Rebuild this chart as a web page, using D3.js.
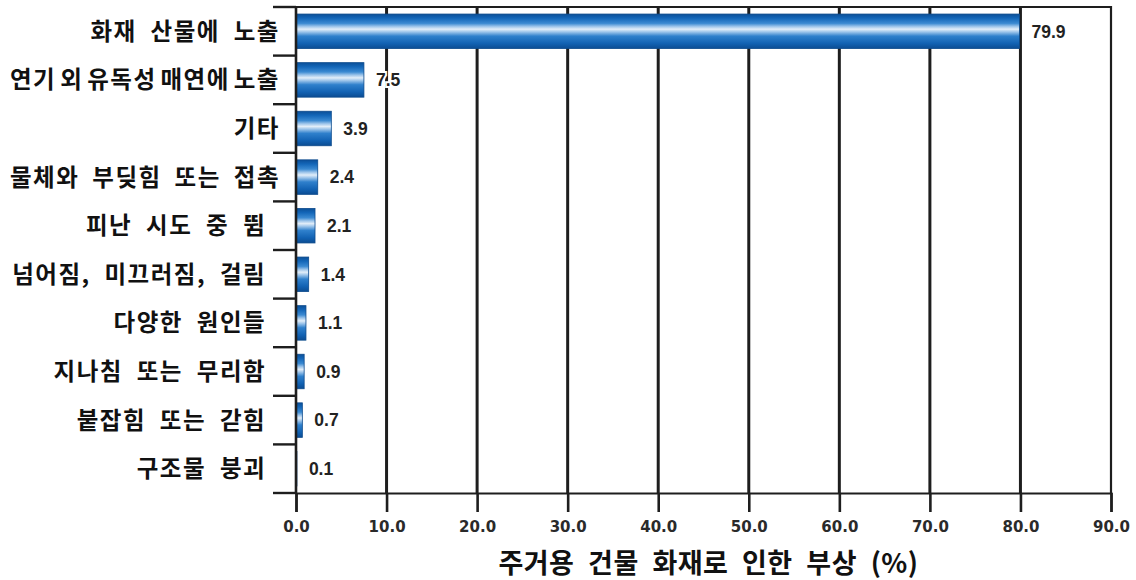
<!DOCTYPE html>
<html><head><meta charset="utf-8">
<script src="https://cdn.jsdelivr.net/npm/d3@7"></script>
<style>
html,body{margin:0;padding:0;background:#fff;}
svg{display:block;}
.cat{white-space:pre;}
</style></head>
<body>
<svg id="chart" width="1136" height="580"></svg>
<script>
// Injury causes in residential building fires (%)
const categories = [
  "화재 산물에 노출",
  "연기 외 유독성 매연에 노출",
  "기타",
  "물체와 부딪힘 또는 접촉",
  "피난 시도 중 뜀 ",
  "넘어짐, 미끄러짐, 걸림 ",
  "다양한 원인들 ",
  "지나침 또는 무리함 ",
  "붙잡힘 또는 갇힘 ",
  "구조물 붕괴 "
];
const values = [79.9, 7.5, 3.9, 2.4, 2.1, 1.4, 1.1, 0.9, 0.7, 0.1];
const xTicks = [0, 10, 20, 30, 40, 50, 60, 70, 80, 90];
const xTitle = "주거용 건물 화재로 인한 부상 (%)";

const svg = d3.select("#chart");
const m = {left: 296, right: 1111, top: 7, bottom: 493};

const x = d3.scaleLinear().domain([0, 90]).range([m.left, m.right]);
const y = d3.scaleBand().domain(categories).range([m.top, m.bottom]).paddingInner(0.29).paddingOuter(0.145);

// cylinder-style shading for the bars
const defs = svg.append("defs");
const grad = defs.append("linearGradient").attr("id", "barGrad")
  .attr("x1", 0).attr("y1", 0).attr("x2", 0).attr("y2", 1);
[
  [0, "#0b4f98"], [0.12, "#1366b8"], [0.27, "#3b8ad2"], [0.36, "#9cc4ea"],
  [0.44, "#e2eef9"], [0.52, "#9cc4ea"], [0.64, "#2f80cc"], [0.85, "#1262b3"], [1, "#0b4c92"]
].forEach(([o, c]) => grad.append("stop").attr("offset", o).attr("stop-color", c));

// vertical gridlines
svg.append("g").selectAll("line").data(xTicks.slice(1, -1)).join("line")
  .attr("x1", d => x(d)).attr("x2", d => x(d))
  .attr("y1", m.top).attr("y2", m.bottom)
  .attr("stroke", "#1e1e1e").attr("stroke-width", 3);

// frame: top and right edges
svg.append("path")
  .attr("d", `M${m.left},${m.top}H${m.right}V${m.bottom}`)
  .attr("fill", "none").attr("stroke", "#1e1e1e").attr("stroke-width", 2.2);

// bars
svg.append("g").selectAll("rect").data(values).join("rect")
  .attr("x", x(0))
  .attr("y", (d, i) => y(categories[i]))
  .attr("width", d => x(d) - x(0))
  .attr("height", y.bandwidth())
  .attr("fill", "url(#barGrad)")
  .attr("stroke", "#0c4a8c").attr("stroke-width", 0.8);

// value labels, with a white halo where they cross a gridline
svg.append("g").selectAll("text").data(values).join("text")
  .attr("x", d => x(d) + 12)
  .attr("y", (d, i) => y(categories[i]) + y.bandwidth() / 2)
  .attr("dy", "0.36em")
  .attr("font-family", "Liberation Sans, Arial, sans-serif")
  .attr("font-weight", "bold").attr("font-size", 17.5)
  .attr("fill", "#222")
  .attr("stroke", "#fff").attr("stroke-width", 4).attr("paint-order", "stroke")
  .text(d => d.toFixed(1));

// bottom axis
const xAxis = d3.axisBottom(x).tickValues(xTicks).tickFormat(d3.format(".1f"))
  .tickSize(19).tickPadding(9);
const gx = svg.append("g").attr("transform", `translate(0,${m.bottom})`).call(xAxis);
gx.select(".domain").attr("stroke", "#1e1e1e").attr("stroke-width", 2.2);
gx.selectAll(".tick line").attr("stroke", "#1e1e1e").attr("stroke-width", 2.6);
gx.selectAll(".tick text")
  .attr("font-family", "DejaVu Sans, sans-serif")
  .attr("font-weight", "bold").attr("font-size", 15).attr("fill", "#2a2a2a");

// left axis with ticks at category boundaries
const bounds = d3.range(categories.length + 1).map(i => m.top + i * (m.bottom - m.top) / categories.length);
svg.append("line").attr("x1", m.left).attr("x2", m.left).attr("y1", m.top).attr("y2", m.bottom)
  .attr("stroke", "#1e1e1e").attr("stroke-width", 2.6);
svg.append("g").selectAll("line").data(bounds).join("line")
  .attr("x1", m.left - 23).attr("x2", m.left)
  .attr("y1", d => d).attr("y2", d => d)
  .attr("stroke", "#1e1e1e").attr("stroke-width", 2.4);

// category labels; long ones get tighter word spacing so they fit the margin
const labelRight = 280, labelMaxWidth = 270, wordSpacing = 7;
svg.append("g").selectAll("text").data(categories).join("text")
  .attr("class", "cat")
  .attr("x", labelRight)
  .attr("y", d => y(d) + y.bandwidth() / 2)
  .attr("dy", "0.36em")
  .attr("text-anchor", "end")
  .attr("font-family", "Noto Sans CJK KR, sans-serif")
  .attr("font-weight", "bold").attr("font-size", 23.5)
  .attr("letter-spacing", 1.5)
  .attr("word-spacing", wordSpacing)
  .attr("fill", "#111")
  .text(d => d)
  .each(function(d) {
    const len = this.getComputedTextLength();
    const gaps = (d.trim().match(/ /g) || []).length;
    if (len > labelMaxWidth && gaps) {
      d3.select(this).attr("word-spacing", wordSpacing - (len - labelMaxWidth) / gaps);
    }
  });

// axis title
svg.append("text")
  .attr("x", (m.left + m.right) / 2 + 5).attr("y", 573)
  .attr("text-anchor", "middle")
  .attr("font-family", "Noto Sans CJK KR, sans-serif")
  .attr("font-weight", "bold").attr("font-size", 27)
  .attr("letter-spacing", 0.5)
  .attr("word-spacing", 7)
  .attr("fill", "#111")
  .text(xTitle);
</script>
</body></html>
